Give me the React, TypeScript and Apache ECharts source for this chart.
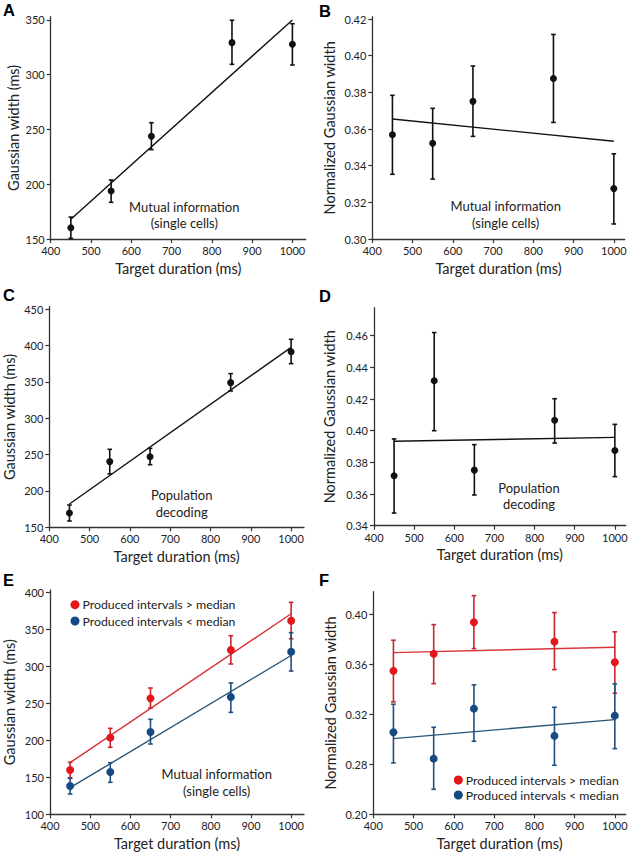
import React, { useEffect, useRef } from "react";
import * as echarts from "echarts";

// ---------- data ----------
const durations = [450, 550, 650, 850, 1000];
const fitX = [450, 1000];
const xTicks = [400, 500, 600, 700, 800, 900, 1000];

// A: mutual information, single cells (ms)
const aMean = [160.3, 193.8, 243.8, 329.3, 327.8];
const aLow = [150.6, 183.5, 231.6, 309.5, 308.9];
const aHigh = [170.0, 203.9, 256.2, 349.7, 346.6];
const aFit = [168, 350];
const aYTicks = [150, 200, 250, 300, 350];

// B: mutual information, normalized
const bMean = [0.3569, 0.3522, 0.3751, 0.3876, 0.3275];
const bLow = [0.3353, 0.3327, 0.356, 0.3636, 0.3082];
const bHigh = [0.3784, 0.3713, 0.3944, 0.4116, 0.3465];
const bFit = [0.3655, 0.3533];
const bYTicks = [0.3, 0.32, 0.34, 0.36, 0.38, 0.4, 0.42];

// C: population decoding (ms)
const cMean = [169.7, 240.4, 247.2, 349.1, 391.7];
const cLow = [158.7, 223.4, 236.2, 337.6, 375.2];
const cHigh = [180.7, 257.3, 258.7, 361.5, 408.7];
const cFit = [182, 397.7];
const cYTicks = [150, 200, 250, 300, 350, 400, 450];

// D: population decoding, normalized
const dMean = [0.3715, 0.4315, 0.3751, 0.4066, 0.3875];
const dLow = [0.348, 0.4, 0.3594, 0.3922, 0.371];
const dHigh = [0.3948, 0.462, 0.3912, 0.4202, 0.404];
const dFit = [0.3933, 0.3958];
const dYTicks = [0.34, 0.36, 0.38, 0.4, 0.42, 0.44, 0.46];

// E: split by produced interval (ms)
const eRedMean = [160.0, 203.8, 257.0, 322.4, 362.1];
const eRedLow = [149.6, 190.7, 243.9, 303.5, 337.7];
const eRedHigh = [170.4, 216.4, 271.0, 341.8, 387.0];
const eRedFit = [170, 371.5];
const eBlueMean = [138.3, 157.3, 211.4, 258.8, 320.1];
const eBlueLow = [127.5, 143.3, 195.2, 238.0, 294.0];
const eBlueHigh = [148.7, 169.9, 228.6, 277.8, 345.9];
const eBlueFit = [136, 315];
const eYTicks = [100, 150, 200, 250, 300, 350, 400];

// F: split by produced interval, normalized (broken axis: lowest tick labelled 0.20)
const fRedMean = [0.3547, 0.3683, 0.3936, 0.3781, 0.3616];
const fRedLow = [0.3299, 0.3445, 0.3725, 0.3557, 0.3368];
const fRedHigh = [0.3792, 0.3917, 0.4149, 0.4013, 0.3859];
const fRedFit = [0.3693, 0.3736];
const fBlueMean = [0.3056, 0.2845, 0.3245, 0.3027, 0.3189];
const fBlueLow = [0.2811, 0.26, 0.2984, 0.2792, 0.2925];
const fBlueHigh = [0.328, 0.3096, 0.3435, 0.3256, 0.3443];
const fBlueFit = [0.3005, 0.3157];
const fYTicks = [0.24, 0.28, 0.32, 0.36, 0.4];
const fYTickLabels = ["0.20", "0.28", "0.32", "0.36", "0.40"];

const nameHigh = "Produced intervals > median";
const nameLow = "Produced intervals < median";

// ---------- styles ----------
const FONT = "Lato";
const TXT = "#222";
const AXIS = "#333";
const BLACK = "#111";
const RED = "#e3161b";
const RED_LINE = "#d8343a";
const RED_BAR = "#c9252b";
const BLUE = "#174a85";
const BLUE_LINE = "#2a5574";
const BLUE_BAR = "#1f4f7f";

type Layout = {
  left: number; top: number; width: number; height: number;
  xMax: number; yMin: number; yMax: number;
  yTicks: number[]; yLabels?: string[]; digits: number;
  yName: string; yGap: number; xGap: number;
};

const layouts: Layout[] = [
  { left: 50.7, top: 16.7, width: 255, height: 222.3, xMax: 1033, yMin: 150, yMax: 353, yTicks: aYTicks, digits: 0, yName: "Gaussian width (ms)", yGap: 30, xGap: 21.5 },
  { left: 372.3, top: 16.7, width: 252.4, height: 222.3, xMax: 1027, yMin: 0.3, yMax: 0.4213, yTicks: bYTicks, digits: 2, yName: "Normalized Gaussian width", yGap: 35, xGap: 21.5 },
  { left: 49.3, top: 306.7, width: 254.7, height: 220.6, xMax: 1032, yMin: 150, yMax: 453.6, yTicks: cYTicks, digits: 0, yName: "Gaussian width (ms)", yGap: 32, xGap: 21.5 },
  { left: 374, top: 307.7, width: 251.7, height: 218, xMax: 1027, yMin: 0.34, yMax: 0.4777, yTicks: dYTicks, digits: 2, yName: "Normalized Gaussian width", yGap: 36.8, xGap: 21.5 },
  { left: 50, top: 590, width: 254, height: 224.3, xMax: 1032, yMin: 100, yMax: 403.7, yTicks: eYTicks, digits: 0, yName: "Gaussian width (ms)", yGap: 32.8, xGap: 21.5 },
  { left: 373.3, top: 591.7, width: 252.4, height: 222.6, xMax: 1027, yMin: 0.24, yMax: 0.418, yTicks: fYTicks, yLabels: fYTickLabels, digits: 2, yName: "Normalized Gaussian width", yGap: 35.4, xGap: 21.5 },
];

type Group = {
  name?: string; mean: number[]; low: number[]; high: number[]; fit: number[];
  dot: string; bar: string; line: string; size: number;
};

const panels: Group[][] = [
  [{ mean: aMean, low: aLow, high: aHigh, fit: aFit, dot: BLACK, bar: BLACK, line: BLACK, size: 7 }],
  [{ mean: bMean, low: bLow, high: bHigh, fit: bFit, dot: BLACK, bar: BLACK, line: BLACK, size: 7 }],
  [{ mean: cMean, low: cLow, high: cHigh, fit: cFit, dot: BLACK, bar: BLACK, line: BLACK, size: 7 }],
  [{ mean: dMean, low: dLow, high: dHigh, fit: dFit, dot: BLACK, bar: BLACK, line: BLACK, size: 7 }],
  [
    { name: nameHigh, mean: eRedMean, low: eRedLow, high: eRedHigh, fit: eRedFit, dot: RED, bar: RED_BAR, line: RED_LINE, size: 8 },
    { name: nameLow, mean: eBlueMean, low: eBlueLow, high: eBlueHigh, fit: eBlueFit, dot: BLUE, bar: BLUE_BAR, line: BLUE_LINE, size: 8 },
  ],
  [
    { name: nameHigh, mean: fRedMean, low: fRedLow, high: fRedHigh, fit: fRedFit, dot: RED, bar: RED_BAR, line: RED_LINE, size: 8 },
    { name: nameLow, mean: fBlueMean, low: fBlueLow, high: fBlueHigh, fit: fBlueFit, dot: BLUE, bar: BLUE_BAR, line: BLUE_LINE, size: 8 },
  ],
];

const letters = [
  { t: "A", x: 3, y: 1 },
  { t: "B", x: 319, y: 2 },
  { t: "C", x: 3, y: 286 },
  { t: "D", x: 319, y: 287.5 },
  { t: "E", x: 3, y: 571.5 },
  { t: "F", x: 319, y: 571.5 },
];

const notes = [
  { lines: ["Mutual information", "(single cells)"], x: 184.3, y: 206.5 },
  { lines: ["Mutual information", "(single cells)"], x: 505.7, y: 206 },
  { lines: ["Population", "decoding"], x: 181.7, y: 495 },
  { lines: ["Population", "decoding"], x: 529, y: 487.7 },
  { lines: ["Mutual information", "(single cells)"], x: 216.7, y: 774 },
];

function buildOption() {
  const grid = layouts.map((l) => ({
    left: l.left, top: l.top, width: l.width, height: l.height,
    containLabel: false, outerBoundsMode: "none",
  }));
  const xAxis = layouts.map((l, i) => ({
    type: "value", gridIndex: i, min: 400, max: l.xMax,
    name: "Target duration (ms)", nameLocation: "middle", nameGap: l.xGap,
    nameTextStyle: { fontFamily: FONT, fontSize: 14.5, color: TXT },
    splitLine: { show: false },
    axisLine: { show: true, lineStyle: { color: AXIS, width: 1.3 } },
    axisTick: { show: true, length: 4, lineStyle: { color: AXIS, width: 1.2 }, customValues: xTicks },
    axisLabel: { fontFamily: FONT, fontSize: 11, color: TXT, margin: 6, customValues: xTicks, formatter: (v: number) => String(v) },
  }));
  const yAxis = layouts.map((l, i) => ({
    type: "value", gridIndex: i, min: l.yMin, max: l.yMax,
    name: l.yName, nameLocation: "middle", nameGap: l.yGap, nameRotate: 90,
    nameTextStyle: { fontFamily: FONT, fontSize: 14.5, color: TXT },
    splitLine: { show: false },
    axisLine: { show: true, lineStyle: { color: AXIS, width: 1.3 } },
    axisTick: { show: true, length: 4, lineStyle: { color: AXIS, width: 1.2 }, customValues: l.yTicks },
    axisLabel: {
      fontFamily: FONT, fontSize: 11, color: TXT, margin: 6, customValues: l.yTicks,
      formatter: (v: number) => {
        if (l.yLabels) {
          const k = l.yTicks.findIndex((t) => Math.abs(t - v) < 1e-6);
          if (k >= 0) return l.yLabels[k];
        }
        return v.toFixed(l.digits);
      },
    },
  }));

  const series: any[] = [];
  panels.forEach((groups, i) => {
    groups.forEach((g) => {
      series.push({
        type: "line", xAxisIndex: i, yAxisIndex: i, name: g.name ? g.name + " fit" : undefined,
        data: fitX.map((x, k) => [x, g.fit[k]]), showSymbol: false, symbol: "none",
        lineStyle: { color: g.line, width: 1.4 }, z: 2, silent: true,
      });
      series.push({
        type: "custom", xAxisIndex: i, yAxisIndex: i, z: 3, silent: true,
        encode: { x: 0, y: [1, 2] },
        data: durations.map((d, k) => [d, g.low[k], g.high[k]]),
        renderItem: (_p: any, api: any) => {
          const x = api.value(0);
          const lo = api.coord([x, api.value(1)]);
          const hi = api.coord([x, api.value(2)]);
          const w = 2.3;
          const st = { stroke: g.bar, lineWidth: 1.6 };
          return {
            type: "group",
            children: [
              { type: "line", shape: { x1: lo[0], y1: lo[1], x2: hi[0], y2: hi[1] }, style: st },
              { type: "line", shape: { x1: lo[0] - w, y1: lo[1], x2: lo[0] + w, y2: lo[1] }, style: st },
              { type: "line", shape: { x1: hi[0] - w, y1: hi[1], x2: hi[0] + w, y2: hi[1] }, style: st },
            ],
          };
        },
      });
      series.push({
        type: "scatter", xAxisIndex: i, yAxisIndex: i, name: g.name,
        data: durations.map((d, k) => [d, g.mean[k]]),
        symbol: "circle", symbolSize: g.size, itemStyle: { color: g.dot, opacity: 1 }, z: 4,
      });
    });
  });

  const legendCommon = {
    orient: "vertical", icon: "circle", itemWidth: 9, itemHeight: 9,
    padding: 0, selectedMode: false, data: [nameHigh, nameLow],
    textStyle: { fontFamily: FONT, fontSize: 12.3, lineHeight: 13, color: TXT, padding: [0, 0, 0, -2] },
  };
  const legend = [
    { ...legendCommon, left: 70.5, top: 598.2, itemGap: 3.3 },
    { ...legendCommon, left: 453.8, top: 773.5, itemGap: 2 },
  ];

  const graphic: any[] = [];
  letters.forEach((l) => {
    graphic.push({
      type: "text", x: l.x, y: l.y,
      style: { text: l.t, fill: "#000", font: "bold 16.5px 'Liberation Sans'", align: "left", verticalAlign: "top", textAlign: "left", textVerticalAlign: "top" },
    });
  });
  notes.forEach((n) => {
    n.lines.forEach((t, k) => {
      graphic.push({
        type: "text", x: n.x, y: n.y + k * 16.7,
        style: { text: t, fill: TXT, font: `13px ${FONT}`, align: "center", verticalAlign: "middle", textAlign: "center", textVerticalAlign: "middle" },
      });
    });
  });

  return {
    animation: false,
    backgroundColor: "#ffffff",
    textStyle: { fontFamily: FONT },
    grid, xAxis, yAxis, series, legend, graphic,
  };
}

export default function App() {
  const ref = useRef<HTMLDivElement>(null);
  useEffect(() => {
    document.body.style.margin = "0";
    if (!ref.current) return;
    const chart = echarts.init(ref.current, undefined, { renderer: "svg" });
    chart.setOption(buildOption() as any);
    return () => chart.dispose();
  }, []);
  return <div ref={ref} style={{ width: 628, height: 852 }} />;
}
